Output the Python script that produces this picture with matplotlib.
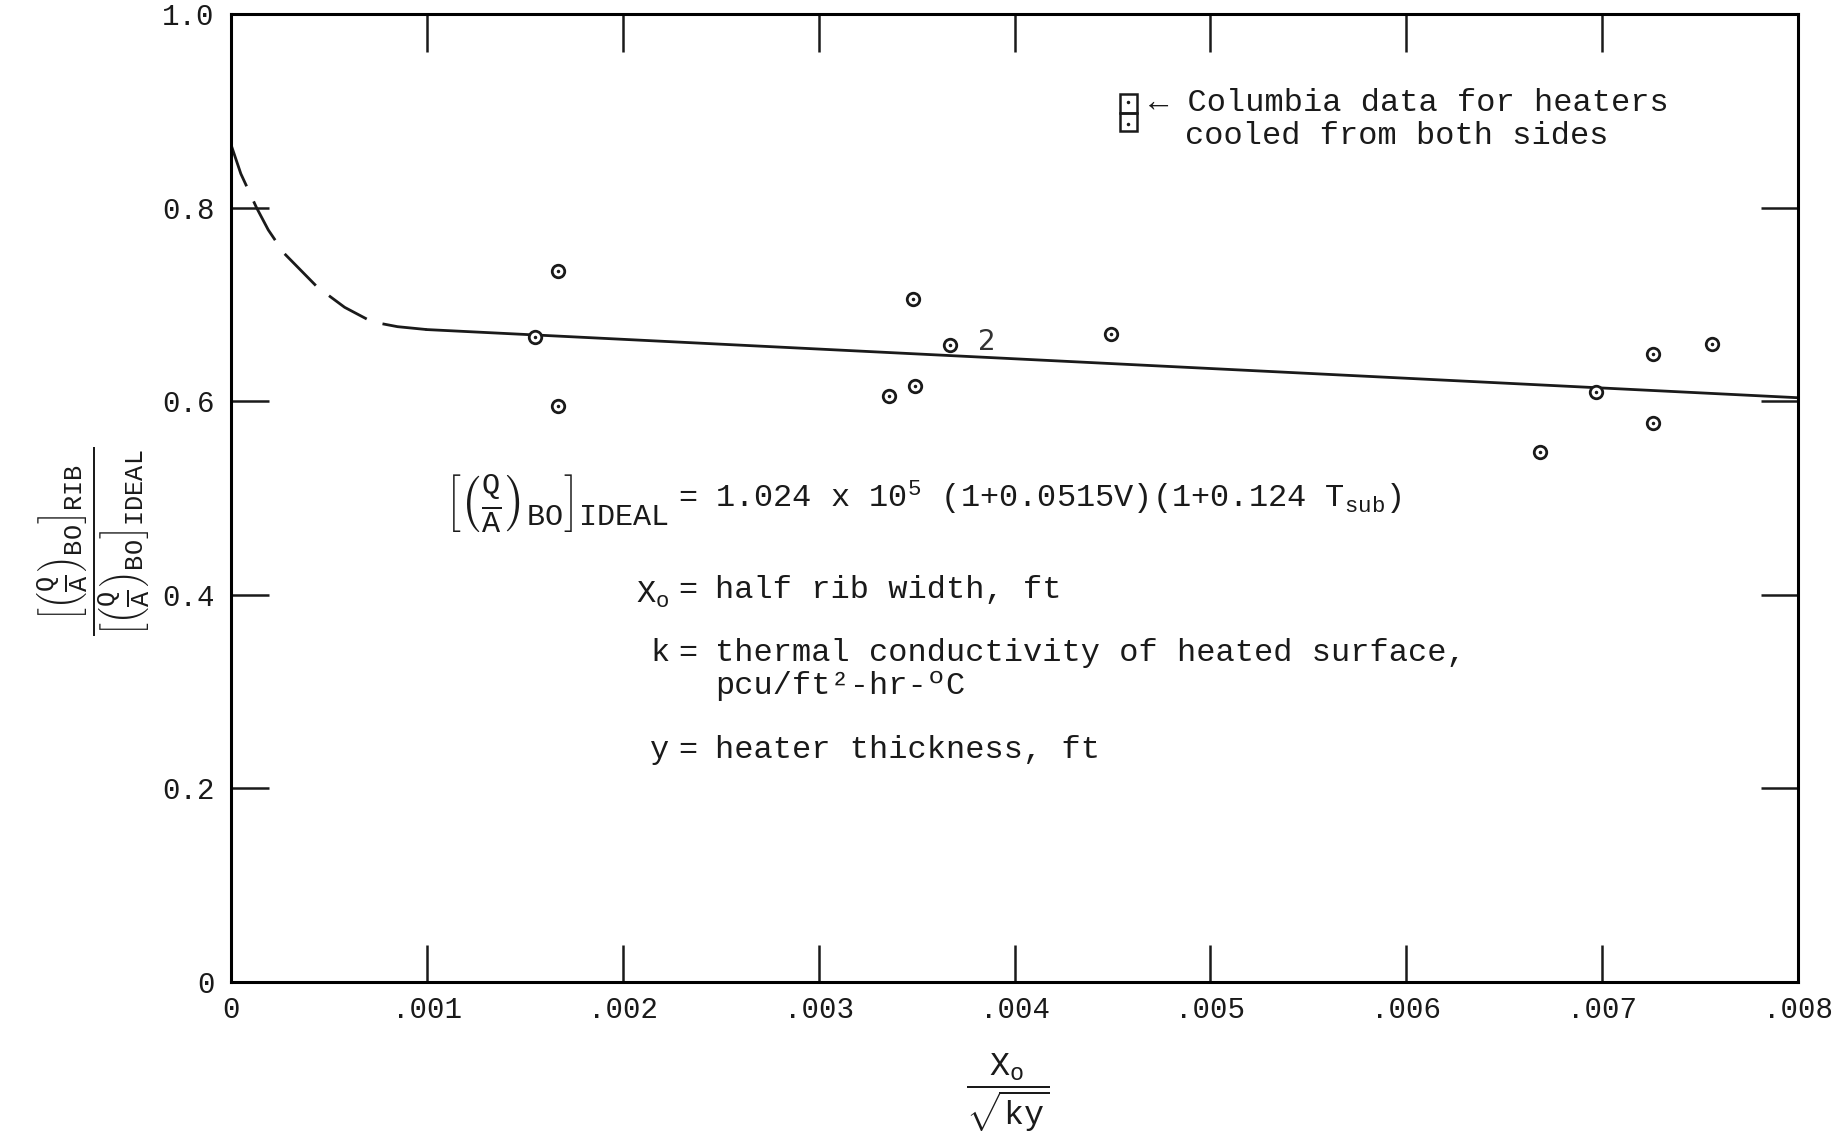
import matplotlib
matplotlib.use('Agg')
import matplotlib.pyplot as plt
from matplotlib.patches import Rectangle

# typewriter look
plt.rcParams['font.family'] = ['Liberation Mono', 'DejaVu Sans Mono']
plt.rcParams['mathtext.fontset'] = 'custom'
plt.rcParams['mathtext.rm'] = 'Liberation Mono'
plt.rcParams['mathtext.it'] = 'Liberation Mono'
plt.rcParams['mathtext.bf'] = 'Liberation Mono:bold'
plt.rcParams['axes.linewidth'] = 2.2

ink = '#1a1a1a'

# Columbia data, heaters cooled from both sides
x_pts = [0.00155, 0.00167, 0.00167, 0.00336, 0.00348, 0.00349, 0.00367,
         0.00449, 0.00668, 0.00697, 0.00726, 0.00726, 0.00756]
y_pts = [0.666, 0.735, 0.595, 0.605, 0.706, 0.616, 0.658,
         0.669, 0.548, 0.609, 0.649, 0.578, 0.659]

# faired curve: dashed extrapolation toward zero, then straight line
curve_x = [0.0, 0.00005, 0.00013, 0.00019, 0.00027, 0.00044, 0.00058,
           0.00072, 0.00085, 0.001]
curve_y = [0.865, 0.835, 0.80, 0.777, 0.753, 0.718, 0.697, 0.682, 0.677, 0.674]
line_x = [0.001, 0.008]
line_y = [0.674, 0.6036]

x_ticks = [0, 0.001, 0.002, 0.003, 0.004, 0.005, 0.006, 0.007, 0.008]
x_labels = ['0', '.001', '.002', '.003', '.004', '.005', '.006', '.007', '.008']
y_ticks = [0, 0.2, 0.4, 0.6, 0.8, 1.0]
y_labels = ['0', '0.2', '0.4', '0.6', '0.8', '1.0']

fig = plt.figure(figsize=(18.38, 11.4), dpi=100)
ax = fig.add_axes([0.1257, 0.1386, 0.8526, 0.8491])

ax.plot(curve_x, curve_y, color=ink, lw=2.0, linestyle=(0, (16, 6)))
ax.plot(line_x, line_y, color=ink, lw=2.0)

ax.plot(x_pts, y_pts, linestyle='none', marker='o', ms=9, mfc='white',
        mec=ink, mew=2.0)
ax.plot(x_pts, y_pts, linestyle='none', marker='.', ms=3, color=ink)
ax.annotate('2', (x_pts[6], y_pts[6]), xytext=(20, 2), textcoords='offset points',
            fontsize=20, family='DejaVu Sans', color='#333333', va='center')

ax.set_xlim(0, 0.008)
ax.set_ylim(0, 1.0)
ax.set_xticks(x_ticks)
ax.set_xticklabels(x_labels)
ax.set_yticks(y_ticks)
ax.set_yticklabels(y_labels)
ax.tick_params(direction='in', length=27, width=1.8, top=True, right=True,
               labelsize=21, colors=ink)
ax.tick_params(axis='x', pad=10)
ax.tick_params(axis='y', pad=12)

# legend note
ax.add_patch(Rectangle((0.567, 0.898), 0.011, 0.019, transform=ax.transAxes,
                       fill=False, lw=1.8, ec=ink))
ax.add_patch(Rectangle((0.567, 0.879), 0.011, 0.019, transform=ax.transAxes,
                       fill=False, lw=1.8, ec=ink))
ax.plot([0.5725, 0.5725], [0.909, 0.886], linestyle='none', marker='.', ms=3,
        color=ink, transform=ax.transAxes)
ax.text(0.586, 0.908, '\u2190 Columbia data for heaters', transform=ax.transAxes,
        fontsize=23, va='center', ha='left', color=ink)
ax.text(0.609, 0.874, 'cooled from both sides', transform=ax.transAxes,
        fontsize=23, va='center', ha='left', color=ink)

# definitions block
eq_x = 0.2916
rhs_x = 0.309
ax.text(eq_x - 0.012, 0.493,
        r'$\left[\left(\frac{Q}{A}\right)_{\rm BO}\right]_{\rm IDEAL}$',
        transform=ax.transAxes, fontsize=31, ha='right', va='center', color=ink)
ax.text(eq_x, 0.5, '=', transform=ax.transAxes, fontsize=23, ha='center',
        va='center', color=ink)
ax.text(rhs_x, 0.5, r'1.024 x 10$^{5}$ (1+0.0515V)(1+0.124 T$_{\rm sub}$)',
        transform=ax.transAxes, fontsize=23, ha='left', va='center', color=ink)

ax.text(eq_x - 0.012, 0.40, r'X$_{\rm o}$', transform=ax.transAxes, fontsize=23,
        ha='right', va='center', color=ink)
ax.text(eq_x, 0.405, '=', transform=ax.transAxes, fontsize=23, ha='center',
        va='center', color=ink)
ax.text(rhs_x, 0.405, 'half rib width, ft', transform=ax.transAxes, fontsize=23,
        ha='left', va='center', color=ink)

ax.text(eq_x - 0.012, 0.34, 'k', transform=ax.transAxes, fontsize=23,
        ha='right', va='center', color=ink)
ax.text(eq_x, 0.34, '=', transform=ax.transAxes, fontsize=23, ha='center',
        va='center', color=ink)
ax.text(rhs_x, 0.34, 'thermal conductivity of heated surface,',
        transform=ax.transAxes, fontsize=23, ha='left', va='center', color=ink)
ax.text(rhs_x, 0.306, 'pcu/ft\u00b2-hr-\u00baC', transform=ax.transAxes,
        fontsize=23, ha='left', va='center', color=ink)

ax.text(eq_x - 0.012, 0.24, 'y', transform=ax.transAxes, fontsize=23,
        ha='right', va='center', color=ink)
ax.text(eq_x, 0.24, '=', transform=ax.transAxes, fontsize=23, ha='center',
        va='center', color=ink)
ax.text(rhs_x, 0.24, 'heater thickness, ft', transform=ax.transAxes,
        fontsize=23, ha='left', va='center', color=ink)

# axis labels
fig.text(0.051, 0.525,
         r'$\dfrac{\left[\left(\frac{Q}{A}\right)_{\rm BO}\right]_{\rm RIB}}'
         r'{\left[\left(\frac{Q}{A}\right)_{\rm BO}\right]_{\rm IDEAL}}$',
         rotation=90, fontsize=26, ha='center', va='center', color=ink)
fig.text(0.548, 0.042, r'$\dfrac{\rm X_o}{\sqrt{\rm ky}}$', fontsize=24,
         ha='center', va='center', color=ink)

fig.savefig('out.png', dpi=100, facecolor='white')
